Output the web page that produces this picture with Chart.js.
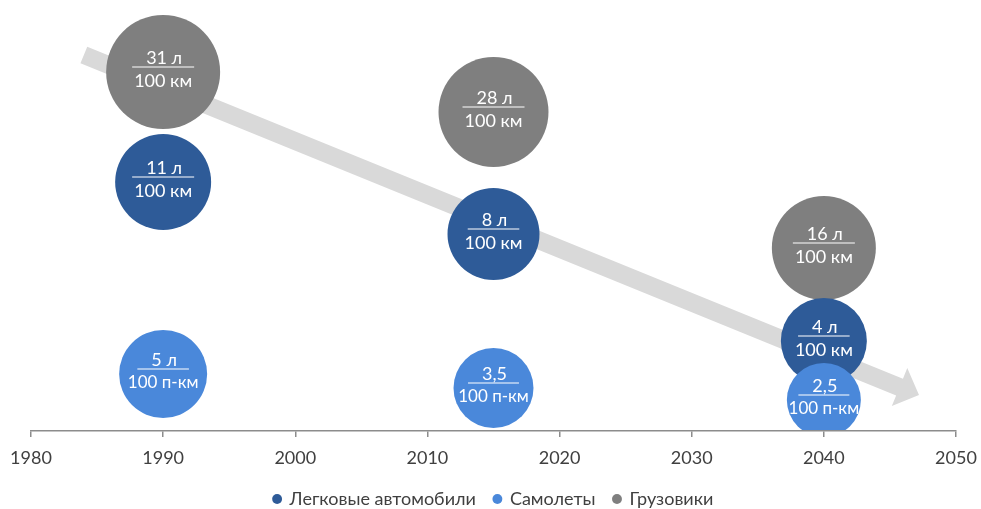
<!DOCTYPE html>
<html>
<head>
<meta charset="utf-8">
<script src="https://cdn.jsdelivr.net/npm/chart.js@4.4.1/dist/chart.umd.min.js"></script>
<style>
  html, body { margin: 0; padding: 0; background: #ffffff; }
  #wrap { width: 981px; height: 509px; }
</style>
</head>
<body>
<div id="wrap"><canvas id="c" width="981" height="509"></canvas></div>
<script>
// ---- Data ----
const years = [1990, 2015, 2040];
const tickYears = [1980, 1990, 2000, 2010, 2020, 2030, 2040, 2050];

const seriesNames = ['Легковые автомобили', 'Самолеты', 'Грузовики'];

// fuel consumption values (numerators)
const carsValues = [11, 8, 4];
const planesValues = [5, 3.5, 2.5];
const trucksValues = [31, 28, 16];

// unit shown after the numerator
const carsUnits = ['л', 'л', 'л'];
const planesUnits = ['л', '', ''];
const trucksUnits = ['л', 'л', 'л'];

// denominators
const carsDenom = '100 км';
const planesDenom = '100 п-км';
const trucksDenom = '100 км';

// vertical level of each bubble (height above the axis)
const carsLevel = [249, 197, 90];
const planesLevel = [57, 43, 31];
const trucksLevel = [359, 319, 183];

// bubble size
const carsSize = [48, 46, 43];
const planesSize = [44, 40, 37];
const trucksSize = [57, 55, 52];

// trend arrow (from / to) in axis units
const arrowFrom = [1984, 376];
const arrowTo = [2047.2, 36];

// ---- Colours ----
const colCars = '#2e5b98';
const colPlanes = '#4a88da';
const colTrucks = '#7f7f7f';
const colArrow = '#d9d9d9';
const colAxis = '#8c8c8c';
const colText = '#404040';

// bubbles are allowed to overflow the plot area, as in the original
Chart.BubbleController.prototype.getMaxOverflow = function () { return false; };

function fmt(v) { return String(v).replace('.', ','); }

function mkPoints(vals, level, size) {
  return years.map((yr, i) => ({ x: yr, y: level[i], r: size[i], v: vals[i] }));
}

const datasets = [
  { label: seriesNames[0], data: mkPoints(carsValues, carsLevel, carsSize),
    backgroundColor: colCars, units: carsUnits, denom: carsDenom, order: 1 },
  { label: seriesNames[1], data: mkPoints(planesValues, planesLevel, planesSize),
    backgroundColor: colPlanes, units: planesUnits, denom: planesDenom, order: 0 },
  { label: seriesNames[2], data: mkPoints(trucksValues, trucksLevel, trucksSize),
    backgroundColor: colTrucks, units: trucksUnits, denom: trucksDenom, order: 2 }
].map(d => Object.assign(d, {
  borderWidth: 0,
  hoverBorderWidth: 0,
  clip: { left: false, top: false, right: false, bottom: -1 }
}));

const arrowPlugin = {
  id: 'trendArrow',
  beforeDatasetsDraw(chart) {
    const xs = chart.scales.x, ys = chart.scales.y, ctx = chart.ctx;
    const x0 = xs.getPixelForValue(arrowFrom[0]), y0 = ys.getPixelForValue(arrowFrom[1]);
    const x1 = xs.getPixelForValue(arrowTo[0]), y1 = ys.getPixelForValue(arrowTo[1]);
    const len = Math.hypot(x1 - x0, y1 - y0);
    const ux = (x1 - x0) / len, uy = (y1 - y0) / len;
    const nx = -uy, ny = ux;
    const sw = 9, hw = 20.5, hl = 21;
    const bx = x1 - ux * hl, by = y1 - uy * hl;
    ctx.save();
    ctx.fillStyle = colArrow;
    ctx.beginPath();
    ctx.moveTo(x0 + nx * sw, y0 + ny * sw);
    ctx.lineTo(bx + nx * sw, by + ny * sw);
    ctx.lineTo(bx + nx * hw, by + ny * hw);
    ctx.lineTo(x1, y1);
    ctx.lineTo(bx - nx * hw, by - ny * hw);
    ctx.lineTo(bx - nx * sw, by - ny * sw);
    ctx.lineTo(x0 - nx * sw, y0 - ny * sw);
    ctx.closePath();
    ctx.fill();
    ctx.restore();
  }
};

const labelPlugin = {
  id: 'bubbleLabels',
  afterDatasetsDraw(chart) {
    const ctx = chart.ctx;
    ctx.save();
    ctx.fillStyle = '#ffffff';
    ctx.strokeStyle = '#ffffff';
    ctx.textAlign = 'center';
    ctx.textBaseline = 'middle';
    chart.data.datasets.forEach((ds, di) => {
      const meta = chart.getDatasetMeta(di);
      meta.data.forEach((el, i) => {
        const p = ds.data[i];
        const unit = ds.units[i];
        const num = fmt(p.v) + (unit ? ' ' + unit : '');
        const cx = el.x, cy = el.y;
        ctx.font = '18px Lato';
        const w = ctx.measureText(num).width + 26;
        ctx.fillText(num, cx + 1, cy - 14);
        ctx.lineWidth = 1.2;
        ctx.beginPath();
        ctx.moveTo(cx - w / 2, cy - 5);
        ctx.lineTo(cx + w / 2, cy - 5);
        ctx.stroke();
        ctx.font = (ds.denom.length > 6 ? '17px' : '18px') + ' Lato';
        ctx.fillText(ds.denom, cx, cy + 9);
      });
    });
    ctx.restore();
  }
};

new Chart(document.getElementById('c'), {
  type: 'bubble',
  data: { datasets },
  plugins: [arrowPlugin, labelPlugin],
  options: {
    responsive: false,
    animation: false,
    events: [],
    layout: { padding: { left: 31, right: 25, top: 0, bottom: 0 } },
    scales: {
      x: {
        type: 'linear',
        min: tickYears[0],
        max: tickYears[tickYears.length - 1],
        afterBuildTicks: s => { s.ticks = tickYears.map(v => ({ value: v })); },
        afterFit: s => { s.height = 41; s.paddingLeft = 0; s.paddingRight = 0; },
        ticks: {
          callback: v => String(v),
          color: colText,
          font: { family: 'Lato', size: 18 },
          padding: 10,
          maxRotation: 0,
          autoSkip: false
        },
        grid: { drawOnChartArea: false, drawTicks: true, tickLength: 6, color: colAxis, lineWidth: 1.5 },
        border: { display: true, color: colAxis, width: 1.5 }
      },
      y: {
        display: false,
        min: 0,
        max: 431
      }
    },
    plugins: {
      tooltip: { enabled: false },
      legend: {
        position: 'bottom',
        maxHeight: 37,
        labels: {
          usePointStyle: true,
          pointStyle: 'circle',
          boxWidth: 7,
          boxHeight: 7,
          padding: 18,
          color: colText,
          font: { family: 'Lato', size: 18 },
          sort: (a, b) => a.datasetIndex - b.datasetIndex
        }
      }
    }
  }
});
</script>
</body>
</html>
